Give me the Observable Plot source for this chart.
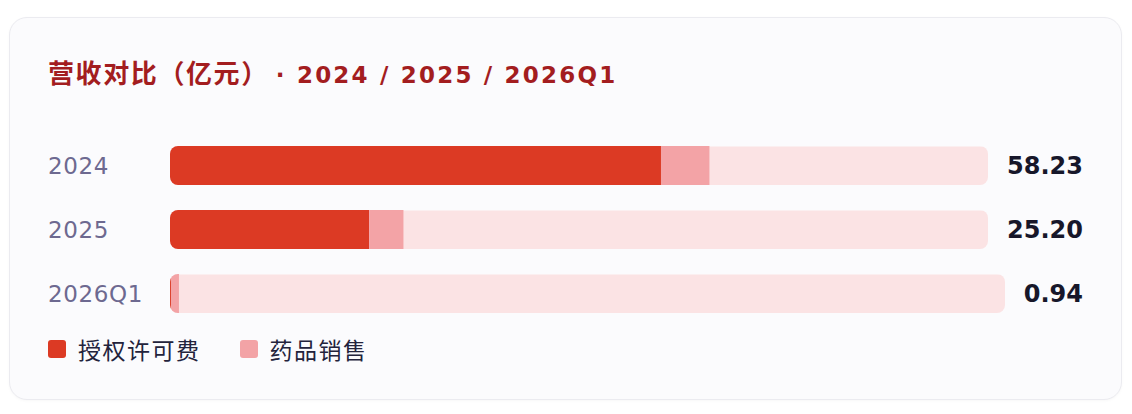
<!DOCTYPE html>
<html>
<head>
<meta charset="utf-8">
<script src="https://cdn.jsdelivr.net/npm/d3@7"></script>
<script src="https://cdn.jsdelivr.net/npm/@observablehq/plot@0.6"></script>
<style>
  html, body { margin: 0; padding: 0; background: #ffffff; }
  body { width: 1132px; height: 414px; position: relative; overflow: hidden; }
  .card {
    position: absolute; left: 9px; top: 17px; width: 1111px; height: 381px;
    border: 1px solid #ebebf0; border-radius: 18px; background: #fbfbfd;
    box-shadow: 0 1px 3px rgba(0,0,0,0.03);
  }
  .title {
    position: absolute; left: 38px; top: 39px; line-height: 30px;
    font-family: "Noto Sans CJK SC", sans-serif; font-weight: 700; font-size: 26px;
    letter-spacing: 1.6px; color: #a31d1f; white-space: nowrap;
  }
  .title .latin {
    font-family: "DejaVu Sans", sans-serif; font-weight: 700; font-size: 23px;
    letter-spacing: 2.2px;
  }
  .row {
    position: absolute; left: 38px; right: 38px; height: 39px;
    display: flex; align-items: center;
  }
  .label {
    width: 122px; flex: none;
    font-family: "DejaVu Sans", sans-serif; font-size: 23px; letter-spacing: 0.6px;
    color: #6d6990; font-weight: 400;
  }
  .track {
    flex: 1 1 auto; height: 39px; border-radius: 8px; overflow: hidden; min-width: 0;
  }
  .track svg { display: block; }
  .value {
    flex: none; margin-left: 19px;
    font-family: "DejaVu Sans", sans-serif; font-weight: 700; font-size: 24px;
    color: #17172a;
  }
  .legend {
    position: absolute; left: 38px; top: 318px; display: flex; align-items: center;
    font-family: "Noto Sans CJK SC", sans-serif; font-size: 23px; letter-spacing: 1.5px;
    color: #23233c; line-height: 26px;
  }
  .legend .item { display: flex; align-items: center; margin-right: 39px; }
  .legend .sw { width: 18px; height: 18px; border-radius: 3px; margin-right: 12px; }
</style>
</head>
<body>
<div class="card" id="card">
  <div class="title" id="title"></div>
</div>
<script>
// ---- data ----
const titleMain = "营收对比（亿元）";
const titleYears = "· 2024 / 2025 / 2026Q1";
const years = ["2024", "2025", "2026Q1"];
const totals = [58.23, 25.20, 0.94];
const licensing = [53.0, 21.5, 0.1];
const drugSales = [5.23, 3.7, 0.84];
const seriesNames = ["授权许可费", "药品销售"];
const seriesColors = ["#dc3a24", "#f3a3a6"];
const trackColor = "#fbe3e4";
const xDomainMax = 88.3;

const card = document.getElementById("card");
const titleEl = document.getElementById("title");
titleEl.append(document.createTextNode(titleMain));
const latin = document.createElement("span");
latin.className = "latin";
latin.textContent = titleYears;
latin.style.marginLeft = "20px";
titleEl.append(latin);

const rowTops = [128, 192, 256];

const rows = years.map((yr, i) => {
  const row = document.createElement("div");
  row.className = "row";
  row.style.top = rowTops[i] + "px";
  const lab = document.createElement("div");
  lab.className = "label";
  lab.textContent = yr;
  const track = document.createElement("div");
  track.className = "track";
  const val = document.createElement("div");
  val.className = "value";
  val.textContent = totals[i].toFixed(2);
  row.append(lab, track, val);
  card.appendChild(row);
  return track;
});

rows.forEach((track, i) => {
  const w = track.clientWidth;
  const segs = [
    {year: years[i], series: seriesNames[0], value: licensing[i]},
    {year: years[i], series: seriesNames[1], value: drugSales[i]}
  ];
  const chart = Plot.plot({
    width: w,
    height: 39,
    margin: 0,
    style: {background: "transparent"},
    x: {domain: [0, xDomainMax], axis: null},
    color: {domain: seriesNames, range: seriesColors},
    marks: [
      Plot.frame({fill: trackColor, stroke: null}),
      Plot.barX(segs, {x: "value", fill: "series", insetLeft: 0, insetRight: 0})
    ]
  });
  track.appendChild(chart);
});

// legend
const legend = document.createElement("div");
legend.className = "legend";
seriesNames.forEach((name, i) => {
  const item = document.createElement("div");
  item.className = "item";
  const sw = document.createElement("div");
  sw.className = "sw";
  sw.style.background = seriesColors[i];
  const t = document.createElement("span");
  t.textContent = name;
  item.append(sw, t);
  legend.appendChild(item);
});
card.appendChild(legend);
</script>
</body>
</html>
